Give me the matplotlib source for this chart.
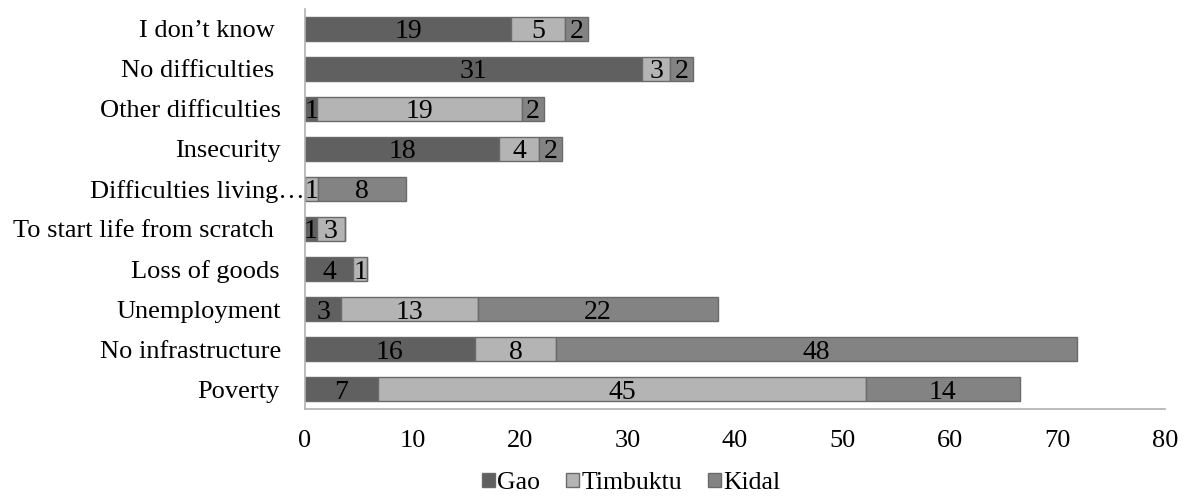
import numpy as np
import matplotlib
matplotlib.use("Agg")
import matplotlib.pyplot as plt

plt.rcParams['font.family'] = ['Liberation Serif', 'DejaVu Serif']

# データ（下から上の順）
categories = ["Poverty", "No infrastructure", "Unemployment", "Loss of goods",
              "To start life from scratch", "Difficulties living…", "Insecurity",
              "Other difficulties", "No difficulties", "I don’t know"]
gao = [6.8, 15.8, 3.4, 4.5, 1.1, 0.0, 18.1, 1.15, 31.4, 19.2]
timbuktu = [45.4, 7.6, 12.7, 1.3, 2.6, 1.24, 3.7, 19.05, 2.6, 5.0]
kidal = [14.3, 48.4, 22.3, 0.0, 0.0, 8.2, 2.1, 2.0, 2.1, 2.1]
series_names = ["Gao", "Timbuktu", "Kidal"]
colors = ["#606060", "#b4b4b4", "#838383"]

fig = plt.figure(figsize=(11.91, 4.97), dpi=100)
ax = fig.add_axes([0.256, 0.177, 0.722, 0.805])

y = np.arange(len(categories))
left = np.zeros(len(categories))
for name, vals, c in zip(series_names, [gao, timbuktu, kidal], colors):
    vals = np.array(vals)
    bars = ax.barh(y, vals, left=left, height=0.6, color=c,
                   edgecolor="#6a6a6a", linewidth=1, label=name)
    labels = ["%.0f" % v if v > 0 else "" for v in vals]
    txts = ax.bar_label(bars, labels=labels, label_type="center", fontsize=20, color="black")
    for t in txts:
        t.set_va("center_baseline")
    left += vals

ax.set_xlim(0, 80)
ax.set_ylim(-0.5, len(categories) - 0.5)
ax.set_xticks(range(0, 81, 10))
ax.set_yticks(y)
ax.set_yticklabels(categories)
ax.tick_params(axis="both", length=0, labelsize=19)
ax.tick_params(axis="x", pad=15)

# ラベルの位置を微調整
pads = [18, 17, 17, 18, 22, 0, 17, 17, 22, 22]
for t, p in zip(ax.yaxis.get_major_ticks(), pads):
    t.set_pad(p)

for s in ["top", "right"]:
    ax.spines[s].set_visible(False)
for s in ["left", "bottom"]:
    ax.spines[s].set_color("#b0b0b0")
    ax.spines[s].set_linewidth(1.2)

fig.legend(loc="center", bbox_to_anchor=(0.53, 0.028), ncol=3, frameon=False,
           fontsize=18.5, handlelength=0.5, handleheight=0.5, handletextpad=0.1,
           columnspacing=1.0, borderpad=0)

plt.savefig("out.png", dpi=100)
